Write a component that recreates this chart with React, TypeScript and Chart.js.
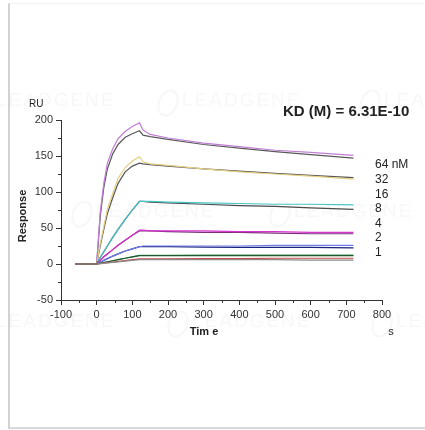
import React, { useEffect, useRef } from "react";
import { Chart, registerables } from "chart.js";
Chart.register(...registerables);

// Time points (s) at which the sensorgram values were read
const times = [-60, 0, 10, 20, 30, 45, 60, 80, 100, 120, 130, 150, 200, 300, 400, 500, 600, 720];

// Measured responses (RU)
const data64 = [0, 0, 72, 112, 140, 160, 174, 184, 191, 196, 186, 180, 175, 168, 163, 158, 155, 151];
const data32 = [0, 0, 28, 52, 76, 98, 119, 134, 143, 149, 142, 139, 137, 132, 128, 125, 122, 118];
const data16 = [0, 0, 9, 17, 25, 37, 48, 62, 75, 87, 87, 87, 86, 85, 84, 83, 83, 82];
const data8 = [0, 0, 5, 10, 14, 20, 26, 33, 40, 47, 47, 46, 46, 46, 45, 45, 44, 44];
const data4 = [0, 0, 2.5, 5, 7.5, 11, 14, 18, 21, 24, 25, 25, 25, 25, 25, 26, 26, 26];
const data2 = [0, 0, 1, 2, 3, 4.5, 6, 8, 10, 12, 12, 12, 12, 12.5, 12.5, 12.5, 12.5, 12.5];
const data1 = [0, 0, 0.6, 1.2, 1.8, 2.7, 3.6, 4.8, 6, 7, 7, 7, 7, 7.5, 7.5, 8, 8, 8];

// Fitted curves (RU)
const fit64 = [0, 0, 66, 106, 132, 153, 166, 176, 181, 185, 179, 177, 173, 166, 161, 156, 152, 147];
const fit32 = [0, 0, 25, 48, 70, 92, 112, 128, 136, 140, 139, 138, 136, 132, 129, 126, 123, 120];
const fit16 = [0, 0, 9, 17, 25, 37, 48, 62, 75, 87, 87, 86, 85, 83, 81, 80, 78, 76];
const fit8 = [0, 0, 5, 10, 14, 20, 26, 33, 40, 46, 46, 46, 45, 44, 44, 43, 42, 42];
const fit4 = [0, 0, 2.5, 5, 7.5, 11, 14, 18, 21, 24, 24, 24, 24, 23.5, 23, 23, 23, 22.5];
const fit2 = [0, 0, 1, 2, 3, 4.5, 6, 8, 10, 11.5, 11.5, 11.5, 11.5, 11.5, 11.5, 11.5, 11.5, 11.5];
const fit1 = [0, 0, 0.5, 1, 1.5, 2.2, 3, 4, 5, 6, 6, 6, 6, 6, 6, 6, 5.5, 5.5];

const concLabels = ["64 nM", "32", "16", "8", "4", "2", "1"];
const kdText = "KD (M) = 6.31E-10";
const xMin = -100, xMax = 800, xStep = 100;
const yMin = -50, yMax = 200, yStep = 50;

const FONT = "'Liberation Sans', Arial, sans-serif";

export default function App() {
  const ref = useRef<HTMLCanvasElement>(null);

  useEffect(() => {
    const canvas = ref.current!;
    const pts = (arr: number[]) => times.map((t, i) => ({ x: t, y: arr[i] }));
    const series: [number[], string][] = [
      [fit1, "#8a8a8a"],
      [data1, "#c84848"],
      [fit2, "#1f5a2e"],
      [data2, "#3c9a5a"],
      [data4, "#6f7ee6"],
      [fit4, "#1a2380"],
      [data8, "#d633d0"],
      [fit8, "#7a2f78"],
      [data16, "#45c4c8"],
      [fit16, "#4a4a4a"],
      [data32, "#e4cf82"],
      [fit32, "#555555"],
      [data64, "#c27ed6"],
      [fit64, "#5a5a5a"],
    ];
    const datasets = series.map(([arr, color]) => ({
      data: pts(arr),
      borderColor: color,
      backgroundColor: color,
      borderWidth: 1.2,
      pointRadius: 0,
      tension: 0,
      fill: false,
    }));

    const overlay = {
      id: "overlay",
      afterDraw(chart: any) {
        const c: CanvasRenderingContext2D = chart.ctx;
        const xs = chart.scales.x;
        const ys = chart.scales.y;
        const area = chart.chartArea;
        c.save();
        // minor ticks
        c.strokeStyle = "#333";
        c.lineWidth = 1;
        c.beginPath();
        for (let v = xMin + xStep / 2; v < xMax; v += xStep) {
          const px = Math.round(xs.getPixelForValue(v)) + 0.5;
          c.moveTo(px, area.bottom);
          c.lineTo(px, area.bottom + 3);
        }
        for (let v = yMin + yStep / 2; v < yMax; v += yStep) {
          const py = Math.round(ys.getPixelForValue(v)) + 0.5;
          c.moveTo(area.left - 3, py);
          c.lineTo(area.left, py);
        }
        c.stroke();

        // texts
        c.fillStyle = "#222";
        c.textBaseline = "middle";
        c.textAlign = "left";
        c.font = `10px ${FONT}`;
        c.fillText("RU", 29, 104);

        c.font = `bold 15px ${FONT}`;
        c.fillText(kdText, 283, 112);

        c.font = `12px ${FONT}`;
        concLabels.forEach((l, i) => {
          c.fillText(l, 375, 165 + i * 14.6);
        });

        c.font = `bold 11px ${FONT}`;
        c.textAlign = "center";
        c.fillText("Tim e", 204, 332);
        c.font = `11px ${FONT}`;
        c.fillText("s", 391, 332);

        c.save();
        c.translate(22.5, 216);
        c.rotate(-Math.PI / 2);
        c.font = `bold 11px ${FONT}`;
        c.fillText("Response", 0, 0);
        c.restore();

        // faint watermarks
        const marks: [number, number][] = [
          [-4, 101], [182, 101], [384, 101],
          [96, 212], [294, 212],
          [-4, 322], [192, 322], [396, 322],
        ];
        c.globalAlpha = 0.07;
        c.fillStyle = "#888";
        c.strokeStyle = "#888";
        c.textAlign = "left";
        c.font = `19px ${FONT}`;
        (c as any).letterSpacing = "2px";
        marks.forEach(([x, y]) => {
          c.fillText("LEADGENE", x, y);
          c.beginPath();
          c.ellipse(x - 14, y + 2, 9, 13, 0.4, 0, Math.PI * 2);
          c.lineWidth = 2;
          c.stroke();
        });
        c.restore();
      },
    };

    const chart = new Chart(canvas, {
      type: "line",
      data: { datasets },
      options: {
        animation: false,
        responsive: false,
        maintainAspectRatio: false,
        layout: { padding: { left: 0, top: 120, right: 43, bottom: 0 } },
        plugins: { legend: { display: false }, tooltip: { enabled: false } },
        scales: {
          x: {
            type: "linear",
            min: xMin,
            max: xMax,
            ticks: { stepSize: xStep, color: "#333", font: { family: FONT, size: 11 }, padding: 3, maxRotation: 0 },
            grid: { drawOnChartArea: false, drawTicks: true, tickLength: 5, color: "#333" },
            border: { display: true, color: "#333" },
            afterFit: (s: any) => { s.height = 130; },
          },
          y: {
            type: "linear",
            min: yMin,
            max: yMax,
            ticks: { stepSize: yStep, color: "#333", font: { family: FONT, size: 11 }, padding: 3 },
            grid: { drawOnChartArea: false, drawTicks: true, tickLength: 5, color: "#333" },
            border: { display: true, color: "#333" },
            afterFit: (s: any) => { s.width = 61; },
          },
        },
      },
      plugins: [overlay],
    });
    return () => chart.destroy();
  }, []);

  return (
    <div style={{ position: "absolute", left: 0, top: 0, width: 425, height: 430, overflow: "hidden", background: "#fff" }}>
      <div
        style={{
          position: "absolute",
          left: 8,
          top: 3,
          width: 430,
          height: 423,
          borderLeft: "2px solid #d2d2d2",
          borderBottom: "2px solid #d8d8d8",
          borderTop: "1px solid #f2f2f2",
        }}
      />
      <canvas ref={ref} width={425} height={430} style={{ position: "absolute", left: 0, top: 0, width: 425, height: 430 }} />
    </div>
  );
}
